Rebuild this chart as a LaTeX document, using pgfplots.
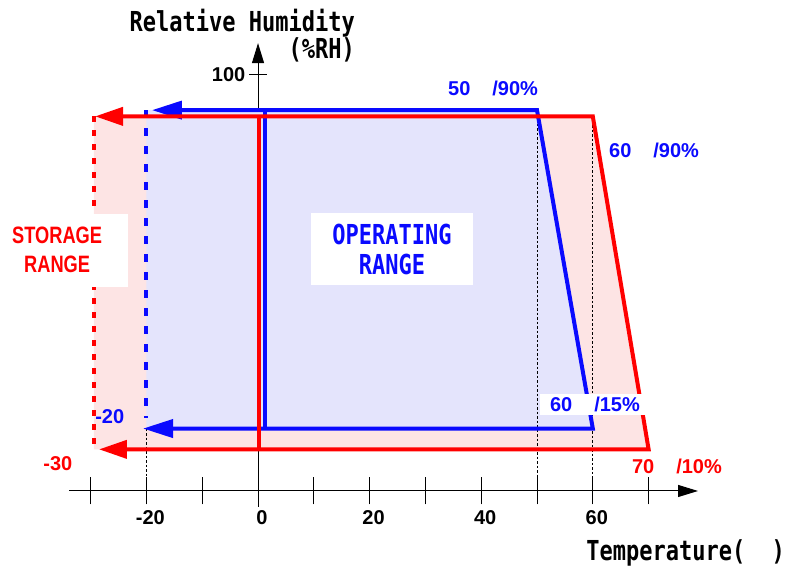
\documentclass[border=0pt]{standalone}
\usepackage{pgfplots}
\pgfplotsset{compat=1.18}
\usepackage{fontspec}
\setmainfont{Liberation Sans}
\newfontfamily\monofont[FakeStretch=0.8]{DejaVu Sans Mono Bold}
\newfontfamily\narrowfont[FakeStretch=0.77]{Liberation Sans Bold}
\usetikzlibrary{arrows.meta}
\definecolor{pinkfill}{RGB}{253,228,228}
\definecolor{lavfill}{RGB}{228,228,252}
\definecolor{myred}{RGB}{255,0,0}
\definecolor{myblue}{RGB}{10,10,255}
\begin{document}
\begin{tikzpicture}
\begin{axis}[
  scale only axis, width=629pt, height=463.7pt,
  xmin=-33.87, xmax=78.85, ymin=-3.8, ymax=107.6,
  axis lines=middle,
  axis line style={line width=1pt, -{Triangle[length=20pt,width=12pt]}},
  hide obscured x ticks=false, hide obscured y ticks=false,
  xtick={-30,-20,-10,0,10,20,30,40,50,60,70},
  xticklabels={,-20,,0,,20,,40,,60,},
  ytick={10,20,40,60,80,100},
  yticklabels={,20,40,60,80,100},
  tick align=center,
  xtick style={line width=1pt, black, /pgfplots/major tick length=27pt},
  ytick style={line width=1pt, black, /pgfplots/major tick length=18pt},
  ticklabel style={font=\bfseries\fontsize{20}{20}\selectfont},
  xticklabel style={anchor=north, yshift=-14pt, xshift=4pt},
  yticklabel style={anchor=east, xshift=-7pt},
  clip=false,
]
% filled ranges
\addplot[fill=pinkfill, draw=none] coordinates {(-29.4,90) (60,90) (70,10) (-29.4,10)};
\addplot[fill=lavfill, draw=none] coordinates {(-20,91.5) (50,91.5) (60,15) (-20,15)};
% thin dashed guides
\addplot[black, line width=0.8pt, dash pattern=on 2.5pt off 2pt] coordinates {(-20,15) (-20,0)};
\addplot[black, line width=0.8pt, dash pattern=on 2.5pt off 2pt] coordinates {(50,91.5) (50,0)};
\addplot[black, line width=0.8pt, dash pattern=on 2.5pt off 2pt] coordinates {(60,90) (60,0)};
% dashed left edges
\addplot[myred, line width=4pt, dash pattern=on 6pt off 8pt] coordinates {(-29.4,90) (-29.4,10)};
\addplot[myblue, line width=4pt, dash pattern=on 8pt off 10pt] coordinates {(-20,91.5) (-20,17.5)};
% operating range outline
\addplot[myblue, line width=4pt, {Triangle[length=30pt,width=18pt]}-{Triangle[length=30pt,width=18pt]}] coordinates {(-19.0,91.5) (50,91.5) (60,15) (-20.6,15)};
\addplot[myblue, line width=4pt] coordinates {(1.25,91.5) (1.25,15)};
% storage range outline
\addplot[myred, line width=4pt, {Triangle[length=28pt,width=18pt]}-{Triangle[length=28pt,width=18pt]}] coordinates {(-29.2,90) (60,90) (70,10) (-28.5,10)};
\addplot[myred, line width=4pt] coordinates {(0.2,90) (0.2,10)};

% label boxes
\node[fill=white, minimum width=127pt, minimum height=73pt, inner sep=0pt] at (axis cs:-34.77,57.8) {};
\node[text=myred, align=center, inner sep=0pt, font=\narrowfont\fontsize{23.7}{29}\selectfont] at (axis cs:-36.0,57.9) {STORAGE\\RANGE};
\node[fill=white, minimum width=162pt, minimum height=72pt, inner sep=0pt] at (axis cs:24.0,58.1) {};
\node[text=myblue, align=center, inner sep=0pt, font=\monofont\fontsize{27.5}{30}\selectfont] at (axis cs:24.0,57.9) {OPERATING\\RANGE};
\node[fill=white, minimum width=105pt, minimum height=21pt, inner sep=0pt] at (axis cs:59.95,20.78) {};

% point annotations
\node[anchor=base west, inner sep=0pt, text=myblue, font=\bfseries\fontsize{20}{24}\selectfont] at (axis cs:34.05,95.1) {50\hspace{22pt}/90\%};
\node[anchor=base west, inner sep=0pt, text=myblue, font=\bfseries\fontsize{20}{24}\selectfont] at (axis cs:62.9,80.2) {60\hspace{22pt}/90\%};
\node[anchor=base west, inner sep=0pt, text=myblue, font=\bfseries\fontsize{20}{24}\selectfont] at (axis cs:52.3,19.0) {60\hspace{22pt}/15\%};
\node[anchor=base west, inner sep=0pt, text=myred, font=\bfseries\fontsize{20}{24}\selectfont] at (axis cs:67.0,4.3) {70\hspace{22pt}/10\%};
\node[anchor=base west, inner sep=0pt, text=myblue, font=\bfseries\fontsize{20}{24}\selectfont] at (axis cs:-29.2,16.3) {-20};
\node[anchor=base west, inner sep=0pt, text=myred, font=\bfseries\fontsize{20}{24}\selectfont] at (axis cs:-38.5,5.0) {-30};

% axis titles
\node[anchor=base east, inner sep=0pt, font=\monofont\fontsize{27.5}{30}\selectfont] at (axis cs:17.4,110.3) {Relative Humidity};
\node[anchor=base east, inner sep=0pt, font=\monofont\fontsize{27.5}{30}\selectfont] at (axis cs:17.4,103.8) {(\%RH)};
\node[anchor=base west, inner sep=0pt, font=\monofont\fontsize{27.5}{30}\selectfont] at (axis cs:58.8,-16.8) {Temperature(\hspace{26.4pt})};

% picture extent
\path (axis cs:-46.24,117.96) rectangle (axis cs:95.16,-18.26);
\end{axis}
\end{tikzpicture}
\end{document}
